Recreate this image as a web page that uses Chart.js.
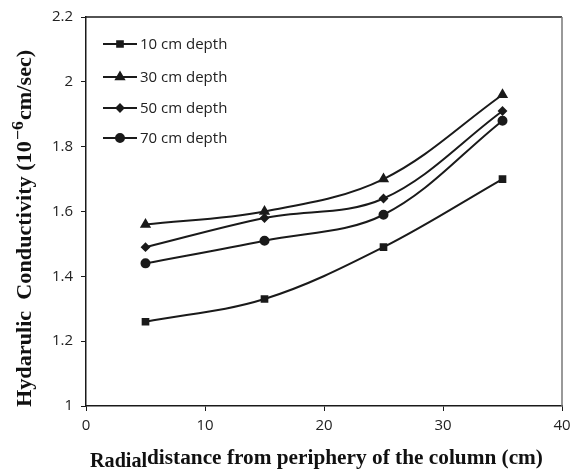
<!DOCTYPE html>
<html>
<head>
<meta charset="utf-8">
<script src="https://cdn.jsdelivr.net/npm/chart.js@4/dist/chart.umd.min.js"></script>
<style>
  html, body { margin: 0; padding: 0; background: #fff; }
  #wrap { width: 582px; height: 471px; }
</style>
</head>
<body>
<div id="wrap"><canvas id="chart"></canvas></div>
<script>
// radial distance (cm) and conductivity values per depth
const distances = [5, 15, 25, 35];
const depthLabels = ['10 cm depth', '30 cm depth', '50 cm depth', '70 cm depth'];
const depth10 = [1.26, 1.33, 1.49, 1.70];
const depth30 = [1.56, 1.60, 1.70, 1.96];
const depth50 = [1.49, 1.58, 1.64, 1.91];
const depth70 = [1.44, 1.51, 1.59, 1.88];
const markers = ['rect', 'triangle', 'rectRot', 'circle'];
const markerSizes = [4, 4.5, 3.5, 4];

const ink = '#1a1a1a';
const serif = 'bold 20px "Liberation Serif", serif';
const seriesValues = [depth10, depth30, depth50, depth70];

const datasets = seriesValues.map((vals, i) => ({
    label: depthLabels[i],
    data: vals.map((v, j) => ({ x: distances[j], y: v })),
    borderColor: ink,
    backgroundColor: ink,
    borderWidth: 2,
    pointStyle: markers[i],
    pointRadius: markerSizes[i],
    tension: 0.35,
    fill: false
}));

// frame, legend inside the plot and both axis titles
const extras = {
    id: 'extras',
    afterDraw(chart) {
        const ctx = chart.ctx;
        const area = chart.chartArea;
        ctx.save();
        ctx.lineWidth = 1.5;
        ctx.strokeStyle = ink;
        ctx.beginPath();
        ctx.moveTo(area.left, area.top);
        ctx.lineTo(area.right, area.top);
        ctx.stroke();
        ctx.strokeStyle = '#777';
        ctx.beginPath();
        ctx.moveTo(area.right, area.top);
        ctx.lineTo(area.right, area.bottom);
        ctx.stroke();

        const rows = [44, 77, 108, 138];
        chart.data.datasets.forEach((ds, i) => {
            const y = rows[i];
            ctx.strokeStyle = ink;
            ctx.lineWidth = 2;
            ctx.beginPath();
            ctx.moveTo(103, y);
            ctx.lineTo(137, y);
            ctx.stroke();
            ctx.fillStyle = ink;
            Chart.helpers.drawPoint(ctx, {
                pointStyle: ds.pointStyle,
                radius: ds.pointRadius,
                rotation: 0,
                borderWidth: 1
            }, 120, y);
            ctx.font = '15px "Open Sans", sans-serif';
            ctx.textBaseline = 'middle';
            ctx.textAlign = 'left';
            ctx.fillStyle = '#222';
            ctx.fillText(ds.label, 140, y + 1);
        });

        // x title (the original is a bit stretched sideways)
        ctx.fillStyle = '#111';
        ctx.textBaseline = 'alphabetic';
        ctx.save();
        ctx.translate(90, 467);
        ctx.scale(0.96, 1);
        ctx.font = 'bold 21px "Liberation Serif", serif';
        ctx.fillText('Radial', 0, 0);
        ctx.restore();
        ctx.save();
        ctx.translate(147, 464);
        ctx.scale(1.065, 1);
        ctx.font = serif;
        ctx.fillText('distance from periphery of the column (cm)', 0, 0);
        ctx.restore();

        // y title, rotated, with a raised exponent, stretched along its length
        ctx.translate(31, 407);
        ctx.rotate(-Math.PI / 2);
        ctx.scale(1.11, 1);
        ctx.font = serif;
        const a = 'Hydarulic  Conductivity (10';
        ctx.fillText(a, 0, 0);
        let x = ctx.measureText(a).width;
        ctx.font = 'bold 16px "Liberation Serif", serif';
        ctx.fillText('\u22126', x + 1, -8);
        x += ctx.measureText('\u22126').width + 2;
        ctx.font = serif;
        ctx.fillText('cm/sec)', x, 0);
        ctx.restore();
    }
};

new Chart(document.getElementById('chart'), {
    type: 'line',
    data: { datasets: datasets },
    plugins: [extras],
    options: {
        responsive: true,
        maintainAspectRatio: false,
        animation: false,
        layout: { padding: { top: 16, right: 20, left: 0, bottom: 0 } },
        plugins: {
            legend: { display: false },
            tooltip: { enabled: false }
        },
        scales: {
            x: {
                type: 'linear',
                min: 0,
                max: 40,
                ticks: {
                    stepSize: 10,
                    color: '#222',
                    font: { family: 'Open Sans', size: 15 },
                    padding: 6
                },
                grid: { drawOnChartArea: false, drawTicks: true, tickLength: 5, color: ink, lineWidth: 1 },
                border: { color: ink, width: 1.5 },
                afterFit(scale) { scale.height = 65; }
            },
            y: {
                min: 1,
                max: 2.2,
                ticks: {
                    stepSize: 0.2,
                    color: '#222',
                    font: { family: 'Open Sans', size: 15 },
                    padding: 8,
                    callback: (v) => String(Number(v.toFixed(1)))
                },
                grid: { drawOnChartArea: false, drawTicks: true, tickLength: 5, color: ink, lineWidth: 1 },
                border: { color: ink, width: 1.5 },
                afterFit(scale) { scale.width = 86; }
            }
        }
    }
});
</script>
</body>
</html>
